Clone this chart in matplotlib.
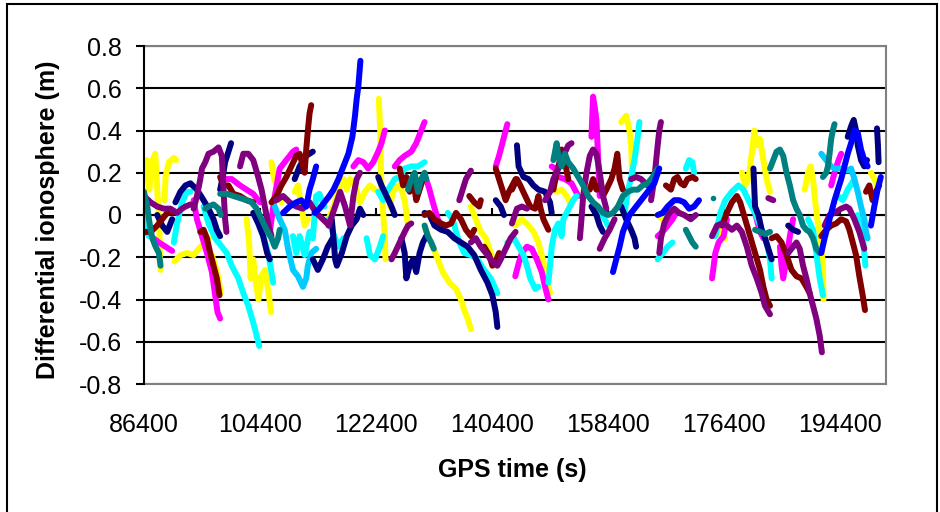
import matplotlib
matplotlib.use("Agg")
import matplotlib.pyplot as plt
from matplotlib.patches import Rectangle

plt.rcParams['font.family'] = ['Liberation Sans', 'DejaVu Sans']

# GPS time ticks / value ticks
x_ticks = [86400, 104400, 122400, 140400, 158400, 176400, 194400]
y_ticks = [-0.8, -0.6, -0.4, -0.2, 0, 0.2, 0.4, 0.6, 0.8]
y_labels = ['-0.8', '-0.6', '-0.4', '-0.2', '0', '0.2', '0.4', '0.6', '0.8']

# satellite arcs, grouped by colour (times in s, values in m)
yellow_t = [
    [86400, 86810, 87220, 87630, 88150, 88460, 88760, 88870, 88970],
    [89590, 89740, 90260, 91030, 91390],
    [91130, 92050, 93080, 94110, 94880, 95910, 96420],
    [96940, 97450, 97970, 98320],
    [102330, 102750, 102950, 103360, 103770, 104180, 104600, 105210, 105730, 106140],
    [106190, 106600, 107220, 107730],
    [109790, 110300, 110820, 111330, 111840],
    [115050, 115820, 116590, 117360, 117880, 118390, 119160, 119930, 120700, 121480, 122250],
    [122860, 123070, 123170, 123270, 123530, 123790, 123890],
    [124560, 125070, 125840, 126360, 126870, 127130, 127390],
    [129960, 130470, 131240, 132010, 132780, 133810, 134840, 135610, 136120, 136640, 137150],
    [137150, 137920, 138690, 139470, 140240, 141010],
    [144040, 145070, 146100, 146870, 147640, 148160, 148670, 149080, 149440],
    [150470, 151240, 152010, 152520],
    [160490, 161260, 161780, 162030, 162140, 162290],
    [166150, 166920, 167690],
    [175100, 175880, 176650],
    [179220, 179730, 180240, 180760, 181170, 181530, 182040, 182560, 183070, 183590],
    [188980, 189500, 189910, 190270, 190520, 190930, 191450, 191810, 191900],
    [199260, 199780, 200190],
]
yellow_v = [
    [0.17, 0.26, 0.12, 0.25, 0.29, 0.12, -0.04, -0.18, -0.26],
    [0.07, 0.18, 0.25, 0.27, 0.26],
    [-0.22, -0.19, -0.18, -0.19, -0.16, -0.13, -0.11],
    [-0.19, -0.24, -0.30, -0.37],
    [-0.02, -0.14, -0.30, -0.21, -0.32, -0.40, -0.29, -0.26, -0.37, -0.46],
    [0.25, 0.17, 0.12, 0.06],
    [0.11, 0.14, 0.04, -0.05, -0.02],
    [-0.02, 0.04, 0.12, 0.17, 0.12, 0.17, 0.14, 0.06, 0.11, 0.14, 0.12],
    [0.55, 0.40, 0.25, 0.14, 0.01, -0.10, -0.21],
    [0.04, 0.11, 0.14, 0.12, 0.07, 0.01, -0.05],
    [-0.05, -0.10, -0.15, -0.21, -0.27, -0.32, -0.35, -0.40, -0.45, -0.49, -0.54],
    [0.04, -0.02, -0.08, -0.11, -0.18, -0.24],
    [-0.05, -0.02, -0.05, -0.08, -0.13, -0.19, -0.26, -0.32, -0.37],
    [0.11, 0.12, 0.09, 0.06],
    [0.44, 0.47, 0.40, 0.33, 0.23, 0.17],
    [0.00, -0.02, -0.01],
    [-0.10, -0.07, -0.11],
    [0.20, 0.14, 0.17, 0.29, 0.40, 0.33, 0.36, 0.26, 0.17, 0.11],
    [0.12, 0.20, 0.23, 0.17, 0.09, -0.02, -0.11, -0.24, -0.40],
    [0.20, 0.17, 0.14],
]

magenta_t = [
    [86400, 87430, 88710, 89740, 90770],
    [94110, 94620, 95400, 96170, 96940, 97450, 97810, 98220],
    [98990, 100020, 101310, 102330, 103360, 104390],
    [105930, 106700, 107470, 108500, 109530, 110040],
    [118910, 119680, 120450, 121220, 121990, 122760, 123270, 123790],
    [125330, 126100, 126870, 127900, 128670, 129440, 129960],
    [130210, 130730, 131240, 132010, 132780],
    [141010, 141520, 142040, 142550, 142810],
    [144040, 144560, 145070, 145840, 146610, 147390, 148160, 148670, 149180],
    [149700, 150210, 150730, 151750, 152780, 153300, 153810],
    [155870, 156120, 156380, 156640, 156890, 157150],
    [166150, 166920, 167690, 168460, 168970],
    [174590, 174850, 175100, 175620, 176390, 176900],
    [181020, 181530, 182040, 182560],
    [185130, 185380, 185640, 186160, 186670, 187180],
    [193090, 193610, 194120, 194640],
]
magenta_v = [
    [-0.07, -0.10, -0.13, -0.15, -0.17],
    [0.07, -0.02, -0.10, -0.18, -0.27, -0.38, -0.46, -0.49],
    [0.17, 0.17, 0.14, 0.12, 0.10, 0.06],
    [-0.08, 0.09, 0.22, 0.26, 0.30, 0.31],
    [0.23, 0.26, 0.25, 0.22, 0.25, 0.30, 0.34, 0.40],
    [0.23, 0.26, 0.28, 0.30, 0.34, 0.40, 0.44],
    [0.17, 0.12, 0.06, -0.02, -0.07],
    [0.23, 0.28, 0.34, 0.40, 0.43],
    [-0.29, -0.23, -0.18, -0.15, -0.16, -0.21, -0.27, -0.34, -0.40],
    [0.23, 0.22, 0.18, 0.17, 0.15, 0.12, 0.09],
    [0.37, 0.56, 0.51, 0.45, 0.28, 0.09],
    [-0.10, -0.08, -0.05, -0.02, 0.01],
    [-0.30, -0.24, -0.18, -0.13, -0.10, -0.02],
    [0.04, -0.02, -0.08, -0.11],
    [-0.15, -0.24, -0.30, -0.21, -0.10, -0.02],
    [0.14, 0.20, 0.25, 0.29],
]

cyan_t = [
    [86400, 86810, 87170],
    [91030, 91540, 92310, 93080, 93600],
    [95650, 96420, 97450, 98480, 99250, 100020, 101050, 101820, 102590, 103360, 103880, 104290],
    [104900, 105680, 106190, 106450],
    [109530, 110040, 110560, 111330, 112100, 112610, 113130, 113640, 114410],
    [115050, 115560, 116080, 116590, 117360],
    [120960, 121480, 122250, 123020, 123530],
    [122760, 123530, 124300, 125330, 126100, 126870, 127900, 128930, 129960],
    [133550, 134330, 134840, 135350, 136120, 137150, 138180, 139210, 140240, 141260],
    [142810, 143830, 144560, 145330, 145840, 146360, 147130, 147640],
    [149180, 149440, 149700, 150210, 150730, 151240, 151500, 152010, 152520, 153040, 153550],
    [161010, 161520, 162030, 162550, 163060, 163320],
    [156890, 157410, 157920, 158440],
    [166150, 166920, 167690, 168460],
    [170520, 171030, 171540, 171800],
    [175100, 175880, 176650, 177670, 178700, 179470, 180240, 181270, 182300, 183070, 183590, 183840],
    [189500, 190270, 190780, 191300, 191810],
    [194120, 194890, 195660, 196690],
    [197210, 197980, 198230, 198400],
]
cyan_v = [
    [0.01, -0.07, -0.10],
    [-0.13, -0.04, 0.06, 0.11, 0.11],
    [0.04, -0.04, -0.11, -0.15, -0.18, -0.24, -0.30, -0.37, -0.43, -0.51, -0.57, -0.62],
    [-0.10, -0.18, -0.27, -0.32],
    [-0.10, -0.18, -0.10, -0.19, -0.08, -0.11, 0.09, 0.10, 0.04],
    [-0.02, -0.07, -0.11, -0.15, -0.11],
    [-0.11, -0.19, -0.21, -0.15, -0.10],
    [0.11, 0.07, 0.12, 0.17, 0.18, 0.22, 0.23, 0.23, 0.25],
    [0.01, -0.02, -0.08, -0.13, -0.18, -0.19, -0.21, -0.26, -0.30, -0.37],
    [-0.13, -0.11, -0.15, -0.19, -0.24, -0.30, -0.35, -0.34],
    [-0.32, -0.24, -0.15, -0.07, -0.04, -0.10, -0.02, 0.01, 0.04, 0.07, 0.09],
    [0.01, 0.11, 0.18, 0.26, 0.37, 0.44],
    [0.04, 0.01, -0.02, -0.05],
    [-0.21, -0.18, -0.15, -0.13],
    [0.22, 0.26, 0.25, 0.20],
    [-0.10, 0.01, 0.07, 0.11, 0.14, 0.12, 0.07, 0.01, -0.07, -0.13, -0.21, -0.30],
    [-0.02, -0.07, -0.18, -0.30, -0.38],
    [0.09, 0.07, 0.12, 0.17],
    [0.00, -0.10, -0.18, -0.24],
]

skyblue_t = [
    [106700, 107470, 108250, 108760, 109530, 110300, 111070, 111590, 111840, 112360, 113130],
    [191550, 192320, 193090, 193610, 194640, 195660, 196180, 196690, 197210, 197720, 198230, 198490, 198750],
]
skyblue_v = [
    [0.04, -0.02, -0.07, -0.16, -0.26, -0.29, -0.34, -0.30, -0.24, -0.18, -0.16],
    [0.29, 0.26, 0.23, 0.22, 0.22, 0.21, 0.22, 0.17, 0.11, 0.04, -0.02, -0.08, -0.11],
]

navy_t = [
    [88460, 89230, 90000, 90770],
    [91280, 92050, 92830, 93600, 94620, 95650, 96420, 97190, 97710, 98220],
    [98220, 98630, 98990, 99510, 99920],
    [103360, 104130, 104900, 105520, 105930],
    [109790, 110560, 111590, 112610],
    [112610, 113390, 114160, 114930, 115700],
    [115560, 115820, 116080, 116340, 117110, 117880, 118650, 119420, 119930, 120450],
    [122760, 123270, 124050, 124820, 125330],
    [126360, 126870, 127130, 127640, 128160, 128670, 129190, 129700, 130210],
    [129960, 130730, 131500, 132530, 133550, 134580, 135610, 136640, 137670, 138690, 139720, 140490, 141010, 141260],
    [141010, 141780, 142290],
    [144300, 144560, 145330, 146100, 146870, 147640, 148670, 149440, 149700],
    [155870, 156640, 157150, 157660],
    [160490, 161260, 162030, 162550, 162800],
    [181020, 181270, 181790, 182300, 182810, 183330, 183840],
    [186410, 187180, 187950],
    [195660, 196180, 196590, 196950, 197210, 197720, 198230, 198650],
    [200200, 200350, 200450],
]
navy_v = [
    [0.00, -0.05, -0.08, -0.02],
    [0.06, 0.11, 0.14, 0.15, 0.12, 0.07, 0.03, -0.02, -0.07, -0.10],
    [0.12, 0.18, 0.25, 0.30, 0.34],
    [0.01, -0.04, -0.10, -0.18, -0.21],
    [0.17, 0.23, 0.28, 0.30],
    [-0.21, -0.26, -0.21, -0.15, -0.11],
    [-0.02, -0.11, -0.21, -0.24, -0.18, -0.10, -0.05, -0.02, 0.03, 0.00],
    [0.18, 0.14, 0.09, 0.04, 0.00],
    [-0.11, -0.18, -0.30, -0.24, -0.21, -0.27, -0.18, -0.13, -0.10],
    [0.01, 0.00, -0.05, -0.07, -0.08, -0.11, -0.13, -0.15, -0.19, -0.26, -0.32, -0.38, -0.46, -0.53],
    [0.07, 0.04, 0.00],
    [0.33, 0.23, 0.18, 0.17, 0.14, 0.12, 0.11, 0.06, 0.01],
    [0.04, 0.00, -0.05, -0.08],
    [0.04, -0.02, -0.07, -0.11, -0.15],
    [0.22, 0.04, 0.00, -0.07, -0.11, -0.16, -0.21],
    [-0.05, -0.07, -0.08],
    [0.37, 0.42, 0.45, 0.40, 0.33, 0.26, 0.23, 0.26],
    [0.41, 0.33, 0.25],
]

maroon_t = [
    [86400, 87430, 88460, 89230, 90000, 90770],
    [95140, 95650, 96170, 96680, 97190, 97710, 98120],
    [98220, 98740, 99510, 100280, 101310, 102330, 103360],
    [106190, 106960, 107730, 108500, 109270, 110040, 110560, 111070, 111330, 111590, 111840, 112100, 112360],
    [126100, 126620, 127130, 127640, 128160, 128670, 129190, 129700],
    [129960, 130730, 131500, 132530, 133300, 134070, 134840, 135610, 136380, 137150, 137670],
    [136900, 137670, 138440, 138690],
    [141010, 141520, 142040, 142550, 143060, 143580, 144090],
    [139210, 139980, 140490, 141010, 141520],
    [143530, 144300, 144820, 145590, 146360, 147130, 147640, 147900, 148410, 149180],
    [149960, 150470, 150980, 151240, 151750, 152270],
    [155610, 156120, 156640, 157150, 157660, 158180, 158950, 159460, 159880, 160240, 160750],
    [167430, 168200, 168720, 169230, 169740, 170260, 170770, 171540, 172060],
    [176130, 176900, 177670, 178450, 178960, 179730, 180500, 181270, 182040, 182560, 183070, 183590],
    [183840, 184610, 185380, 186160, 186930, 187700, 188470, 189240, 189750],
    [191550, 192320, 193090, 193870, 194640, 195410, 195920, 196440, 196950, 197460, 197980, 198340],
    [198490, 199010, 199520, 200030, 200550],
]
maroon_v = [
    [-0.08, -0.08, -0.05, -0.02, 0.01, 0.01],
    [-0.08, -0.07, -0.11, -0.18, -0.24, -0.30, -0.38],
    [0.18, 0.14, 0.14, 0.10, 0.09, 0.07, 0.06],
    [0.06, 0.09, 0.14, 0.18, 0.23, 0.28, 0.29, 0.23, 0.20, 0.31, 0.40, 0.48, 0.52],
    [0.22, 0.14, 0.18, 0.11, 0.17, 0.07, 0.12, 0.17],
    [0.00, 0.01, -0.02, -0.04, -0.05, -0.04, 0.01, -0.02, -0.07, -0.10, -0.07],
    [0.09, 0.06, 0.04, 0.07],
    [0.22, 0.17, 0.12, 0.07, 0.11, 0.14, 0.17],
    [-0.15, -0.19, -0.24, -0.22, -0.18],
    [0.12, 0.17, 0.14, 0.09, 0.04, 0.03, 0.09, 0.04, -0.02, -0.07],
    [0.12, 0.20, 0.26, 0.31, 0.25, 0.17],
    [0.12, 0.17, 0.12, 0.14, 0.09, 0.12, 0.17, 0.22, 0.29, 0.17, 0.12],
    [0.14, 0.12, 0.17, 0.18, 0.15, 0.14, 0.17, 0.18, 0.17],
    [-0.05, 0.01, 0.06, 0.09, 0.06, -0.02, -0.10, -0.18, -0.26, -0.34, -0.40, -0.43],
    [-0.11, -0.10, -0.13, -0.19, -0.26, -0.29, -0.30, -0.34, -0.37],
    [-0.10, -0.07, -0.05, -0.04, -0.02, -0.03, -0.07, -0.13, -0.19, -0.29, -0.38, -0.45],
    [0.11, 0.14, 0.07, 0.11, 0.14],
]

purple_t = [
    [86400, 87430, 88460, 89480, 90510, 91540, 92310, 92830, 93600],
    [94110, 94620, 95140, 95400, 95910, 96420, 97190, 97970, 98480, 98740, 98990, 99200],
    [101310, 101820, 102590, 103360, 104130, 104650, 105160, 105680, 106190],
    [106960, 107990, 109020, 110040, 111070, 112100, 113130, 114160, 115180],
    [115050, 116080, 116850, 117620, 118390, 118910, 119420, 119930],
    [124820, 125330, 126100, 126870, 127390, 127900],
    [135350, 135870, 136380, 137150],
    [137150, 137920, 138690, 139470, 140240, 141260, 141780, 142550, 143320, 144090],
    [143530, 144300, 145070, 145840],
    [148670, 149440, 149960, 150730, 151500, 152270, 152780],
    [154070, 154320, 154580, 155100, 155610, 156120, 156640, 156990, 157300, 157660, 158180],
    [157150, 157920, 158690, 159460],
    [162030, 162800, 163580, 164600],
    [165120, 165630, 165890, 166150, 166400, 166660],
    [166400, 166660, 167170, 167950, 168720, 169490, 170260, 171290, 172060],
    [174590, 175360, 176130, 176900, 177670, 178450, 179220, 179990, 180760, 181530, 182300, 182810, 183590],
    [186410, 187180, 187700, 188210, 188720, 189240, 189750, 190270, 190780, 191300, 191650],
    [192070, 192840, 193610, 194640, 195410, 195920, 196690, 197460, 198230],
    [183330, 184100],
]
purple_v = [
    [0.09, 0.06, 0.04, 0.03, 0.03, 0.01, 0.03, 0.04, 0.05],
    [0.03, 0.09, 0.17, 0.22, 0.25, 0.29, 0.30, 0.32, 0.28, 0.12, -0.02, -0.08],
    [0.23, 0.29, 0.29, 0.26, 0.18, 0.12, 0.04, -0.04, -0.10],
    [0.07, 0.09, 0.06, 0.04, 0.03, 0.06, 0.01, -0.02, -0.05],
    [-0.05, 0.04, 0.11, 0.04, -0.05, 0.09, 0.17, 0.20],
    [-0.21, -0.18, -0.13, -0.08, -0.05, -0.04],
    [0.07, 0.12, 0.17, 0.21],
    [-0.13, -0.11, -0.15, -0.18, -0.21, -0.24, -0.21, -0.16, -0.11, -0.08],
    [-0.04, 0.03, 0.04, 0.03],
    [0.07, 0.11, 0.17, 0.22, 0.28, 0.33, 0.34],
    [-0.11, -0.02, 0.09, 0.20, 0.28, 0.31, 0.29, 0.23, 0.17, 0.09, 0.03],
    [-0.16, -0.11, -0.07, -0.02],
    [0.17, 0.18, 0.17, 0.14],
    [0.07, 0.17, 0.25, 0.33, 0.40, 0.44],
    [-0.18, -0.11, -0.04, 0.01, 0.03, 0.01, 0.00, -0.02, 0.00],
    [-0.10, -0.05, -0.04, -0.05, -0.07, -0.05, -0.08, -0.15, -0.24, -0.30, -0.37, -0.43, -0.47],
    [-0.18, -0.15, -0.13, -0.16, -0.24, -0.30, -0.37, -0.43, -0.49, -0.57, -0.65],
    [-0.05, 0.00, 0.01, 0.03, 0.04, 0.03, -0.02, -0.08, -0.16],
    [0.08, 0.07],
]

teal_t = [
    [86400, 86910, 87170, 87430, 87690, 88200, 88710, 88970],
    [95910, 96420, 97190, 97970, 98320],
    [98220, 99250, 100280, 101310, 102330, 103110, 103880, 104650, 105420, 106190, 106700, 107220, 107470],
    [127390, 127900, 128410, 128930, 129440, 129960, 130210],
    [129960, 130470, 130980, 131400],
    [149960, 150470, 150730, 151240, 151750, 152270, 153040, 153810, 154580, 155350, 156120, 156890,
     157660, 158440, 159210, 159980, 160750, 161520, 162290, 163060, 163830, 164600, 165380, 166150],
    [170520, 171030, 171540, 172060],
    [174690],
    [181270, 182040, 182810, 183590],
    [183590, 184100, 184610, 185130, 185640, 186160, 186670, 187180, 187700, 188210, 188720, 189240,
     189750, 190270, 190780, 191300],
    [191810, 192320, 192580, 192840, 193090, 193350, 193610],
]
teal_v = [
    [0.11, 0.04, -0.02, -0.07, -0.11, -0.15, -0.18, -0.24],
    [0.03, 0.04, 0.05, 0.03, 0.00],
    [0.10, 0.10, 0.09, 0.08, 0.07, 0.06, 0.03, -0.02, -0.07, -0.11, -0.15, -0.11, -0.07],
    [0.12, 0.17, 0.20, 0.11, 0.17, 0.20, 0.17],
    [-0.05, -0.10, -0.13, -0.16],
    [0.26, 0.34, 0.28, 0.23, 0.29, 0.25, 0.22, 0.18, 0.14, 0.09, 0.06, 0.04,
     0.01, 0.00, 0.01, 0.04, 0.09, 0.11, 0.12, 0.12, 0.14, 0.15, 0.18, 0.22],
    [-0.07, -0.10, -0.13, -0.15],
    [0.08],
    [-0.07, -0.08, -0.09, -0.08],
    [0.22, 0.26, 0.30, 0.31, 0.28, 0.20, 0.14, 0.07, 0.03, 0.00, -0.05, -0.07,
     -0.08, -0.11, -0.16, -0.18],
    [0.18, 0.20, 0.23, 0.29, 0.36, 0.40, 0.43],
]

blue_t = [
    [107990, 109020, 110040, 110820, 111590, 112100, 112610, 113130],
    [112870, 113640, 114410, 115180, 115820, 116590, 117360, 118130, 118750, 119160, 119420, 119680, 120000],
    [159210, 159720, 160240, 160750, 161260, 161780, 162550, 163320, 164090, 164860, 165630, 166400],
    [166150, 166920, 167690, 168720, 169490, 170260, 171030, 171800, 172570],
    [191550, 192070, 192580, 193090, 193610, 194120, 194640, 195150, 195660, 196180, 196690, 197210,
     197720, 198230, 198750],
    [199260, 199780, 200290, 200800],
]
blue_v = [
    [0.01, 0.04, 0.06, 0.07, 0.04, 0.12, 0.17, 0.23],
    [0.01, 0.03, 0.06, 0.09, 0.12, 0.17, 0.23, 0.29, 0.37, 0.47, 0.55, 0.61, 0.73],
    [-0.27, -0.21, -0.15, -0.08, -0.04, 0.00, 0.03, 0.06, 0.09, 0.12, 0.15, 0.22],
    [0.00, 0.01, 0.04, 0.07, 0.07, 0.06, 0.03, 0.04, 0.07],
    [-0.18, -0.11, -0.05, 0.01, 0.07, 0.12, 0.17, 0.23, 0.29, 0.34, 0.40, 0.39,
     0.31, 0.26, 0.23],
    [-0.05, 0.04, 0.12, 0.18],
]

series = [
    (yellow_t, yellow_v, '#FFFF00'),
    (magenta_t, magenta_v, '#FF00FF'),
    (cyan_t, cyan_v, '#00FFFF'),
    (skyblue_t, skyblue_v, '#00CCFF'),
    (navy_t, navy_v, '#000080'),
    (maroon_t, maroon_v, '#800000'),
    (purple_t, purple_v, '#800080'),
    (teal_t, teal_v, '#008080'),
    (blue_t, blue_v, '#0000FF'),
]

fig = plt.figure(figsize=(9.4, 5.12), dpi=100)
ax = fig.add_axes([144 / 940, 1 - 384 / 512, (886 - 144) / 940, (384 - 46) / 512])

for ts, vs, col in series:
    for t, v in zip(ts, vs):
        if len(t) == 1:
            ax.plot(t, v, 'o', color=col, ms=4, mec='none')
        else:
            ax.plot(t, v, '-', color=col, lw=4.3, solid_capstyle='round',
                    solid_joinstyle='round')

ax.set_xlim(86400, 201600)
ax.set_ylim(-0.8, 0.8)
ax.set_xticks(x_ticks)
ax.set_xticklabels([str(x) for x in x_ticks])
ax.set_yticks(y_ticks)
ax.set_yticklabels(y_labels)

ax.grid(axis='y', color='black', lw=1.5)
ax.set_axisbelow(True)

for side in ['top', 'right', 'bottom']:
    ax.spines[side].set_color('#808080')
    ax.spines[side].set_linewidth(1.5)
ax.spines['left'].set_color('black')
ax.spines['left'].set_linewidth(1.5)
ax.spines['left'].set_zorder(5)

ax.tick_params(axis='x', length=0, pad=21, labelsize=18)
ax.tick_params(axis='y', direction='out', length=6, width=1.5, pad=10, labelsize=18)

# x axis crossing at zero, tick marks only
sec = ax.secondary_xaxis(0.5)
sec.set_xticks(x_ticks)
sec.set_xticklabels([])
sec.tick_params(direction='out', length=5, width=1.5)
sec.spines['bottom'].set_linewidth(1.5)
sec.spines['bottom'].set_color('black')

fig.text(48 / 940, 1 - 220 / 512, 'Differential ionosphere (m)', rotation=90,
         ha='center', va='center', fontsize=18, fontweight='bold')
fig.text(512 / 940, 1 - 470 / 512, 'GPS time (s)', ha='center', va='center',
         fontsize=18, fontweight='bold')

fig.patches.append(Rectangle((7 / 940, -0.02), 930 / 940, 1 - 4 / 512 + 0.02,
                             transform=fig.transFigure, fill=False,
                             edgecolor='black', lw=1.5))

fig.savefig('out.png', dpi=100)
